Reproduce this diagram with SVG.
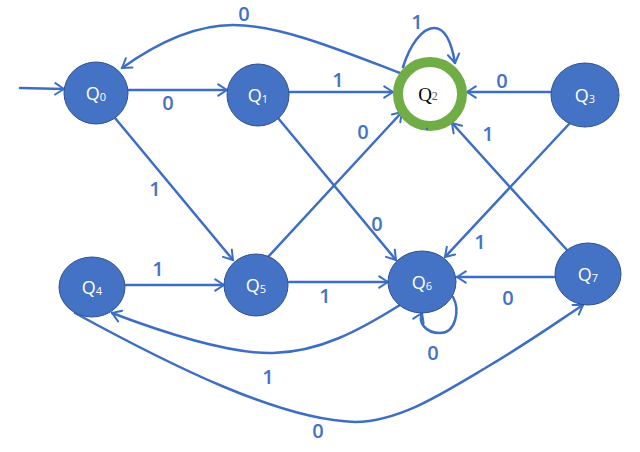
<svg xmlns="http://www.w3.org/2000/svg" width="640" height="452" viewBox="0 0 640 452">
<defs>
<style>
.n{fill:#4472C4;stroke:#2F528F;stroke-width:1}
.nt{fill:#fff;font-family:"Open Sans","Liberation Sans",sans-serif;font-size:18px;text-anchor:middle;dominant-baseline:central}
.sub{font-size:11px}
.e{fill:none;stroke:#3D6EC5;stroke-width:2.5;stroke-linecap:round;marker-end:url(#ah)}
.l{fill:#4472C4;font-family:"Open Sans","Liberation Sans",sans-serif;font-weight:600;font-size:20px;text-anchor:middle;dominant-baseline:central}
</style>
<marker id="ah" markerWidth="14" markerHeight="14" refX="0" refY="0" viewBox="-12 -8 14 16" orient="auto" markerUnits="userSpaceOnUse">
<path d="M-10,-6.5 L0,0 L-10,6.5" fill="none" stroke="#3D6EC5" stroke-width="2.3" stroke-linecap="round" stroke-linejoin="round"/>
</marker>
</defs>
<rect width="640" height="452" fill="#fff"/>
<g id="connectors">
<path class="e" d="M20,88 L64,89"/>
<path class="e" d="M128,90 L227,90"/>
<path class="e" d="M400,73 C340,50 280,25 233,25 C190,25 150,48 122,68"/>
<path class="e" d="M289,92 L393,92"/>
<path class="e" d="M403,67 C410,45 422,28 434,28 C446,28 452,45 455,63"/>
<path class="e" d="M551,92 L467,92"/>
<path class="e" d="M115,118 L233,260"/>
<path class="e" d="M278,118 L396,260"/>
<path class="e" d="M268,257 L402,112"/>
<path class="e" d="M570,123 L445,257"/>
<path class="e" d="M567,250 L452,123"/>
<path class="e" d="M126,285 L224,285"/>
<path class="e" d="M289,282 L388,282"/>
<path class="e" d="M555,277 L457,277"/>
<path class="e" d="M453,297 C460,310 456,333 440,333 C425,333 418,322 422,313"/>
<path class="e" d="M400,305 C360,330 320,352 273,353 C230,354 170,335 112,313"/>
<path class="e" d="M75,313 C170,365 280,420 355,422 C400,421 440,395 487,367 S560,320 583,305"/>
</g>
<g id="labels">
<text class="l" x="244" y="13">0</text>
<text class="l" x="417" y="21">1</text>
<text class="l" x="168" y="102">0</text>
<text class="l" x="338" y="79">1</text>
<text class="l" x="502" y="80">0</text>
<text class="l" x="363" y="131">0</text>
<text class="l" x="488" y="133">1</text>
<text class="l" x="155" y="188">1</text>
<text class="l" x="377" y="223">0</text>
<text class="l" x="480" y="241">1</text>
<text class="l" x="158" y="268">1</text>
<text class="l" x="325" y="295">1</text>
<text class="l" x="508" y="297">0</text>
<text class="l" x="433" y="352">0</text>
<text class="l" x="268" y="376">1</text>
<text class="l" x="318" y="430">0</text>
</g>
<g id="Q0"><ellipse class="n" cx="96" cy="93" rx="32" ry="31"/><text class="nt" x="96" y="93">Q<tspan class="sub" dy="3">0</tspan></text></g>
<g id="Q1"><ellipse class="n" cx="258" cy="95" rx="31" ry="31"/><text class="nt" x="258" y="95">Q<tspan class="sub" dy="3">1</tspan></text></g>
<g id="Q2"><circle cx="430" cy="94" r="32" fill="#fff" stroke="#70AD47" stroke-width="10"/><text x="428" y="94" font-family="'Liberation Serif',serif" font-size="19" text-anchor="middle" dominant-baseline="central" fill="#000">Q<tspan font-size="12" fill="#555" dy="2">2</tspan></text><circle cx="427" cy="129" r="1.3" fill="#3D6EC5"/></g>
<g id="Q3"><ellipse class="n" cx="585" cy="95" rx="34" ry="32"/><text class="nt" x="585" y="95">Q<tspan class="sub" dy="3">3</tspan></text></g>
<g id="Q4"><ellipse class="n" cx="92" cy="287" rx="33" ry="30"/><text class="nt" x="92" y="287">Q<tspan class="sub" dy="3">4</tspan></text></g>
<g id="Q5"><ellipse class="n" cx="256" cy="285" rx="32" ry="31"/><text class="nt" x="256" y="285">Q<tspan class="sub" dy="3">5</tspan></text></g>
<g id="Q6"><ellipse class="n" cx="422" cy="282" rx="34" ry="31"/><text class="nt" x="422" y="282">Q<tspan class="sub" dy="3">6</tspan></text></g>
<g id="Q7"><ellipse class="n" cx="588" cy="274" rx="33" ry="31"/><text class="nt" x="588" y="274">Q<tspan class="sub" dy="3">7</tspan></text></g>
</svg>
